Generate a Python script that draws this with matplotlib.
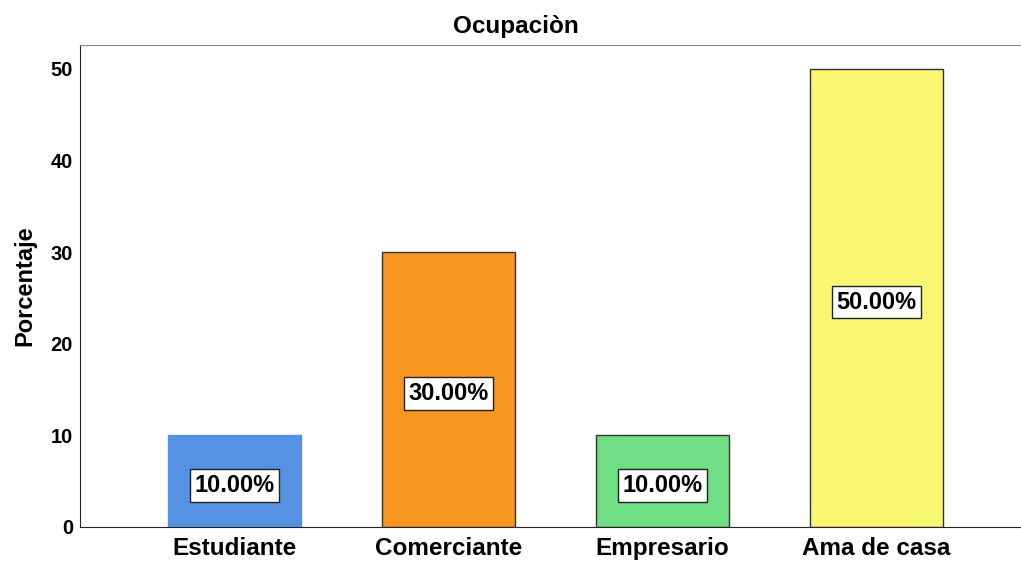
import numpy as np
import matplotlib.pyplot as plt

plt.rcParams['font.family'] = ['Liberation Sans', 'DejaVu Sans']
plt.rcParams['font.weight'] = 'bold'

categorias = ["Estudiante", "Comerciante", "Empresario", "Ama de casa"]
porcentajes = [10.0, 30.0, 10.0, 50.0]
colores = ["#5592E3", "#F7961F", "#70DE85", "#F9F772"]
bordes = ["#5592E3", "#333333", "#333333", "#333333"]

fig = plt.figure(figsize=(10.21, 5.61), dpi=100)
ax = fig.add_axes([80 / 1021, 1 - 527 / 561, 941 / 1021, 482 / 561])

x = np.arange(len(categorias))
ax.bar(x, porcentajes, width=0.62, color=colores, edgecolor=bordes, linewidth=1)

for xi, v in zip(x, porcentajes):
    ax.annotate(f"{v:.2f}%", (xi, v / 2), xytext=(0, -3), textcoords="offset points",
                ha="center", va="center", fontsize=17, fontweight="bold",
                bbox=dict(boxstyle="square,pad=0.2", facecolor="white",
                          edgecolor="#222222", linewidth=1))

ax.set_xlim(-0.722, 3.675)
ax.set_ylim(0, 52.6)
ax.set_yticks([0, 10, 20, 30, 40, 50])
ax.set_xticks(x)
ax.set_xticklabels(categorias, fontsize=17.5, fontweight="bold")
ax.tick_params(axis="y", labelsize=14.5, length=0, pad=5)
ax.tick_params(axis="x", length=0, pad=7)
for lbl in ax.get_yticklabels():
    lbl.set_fontweight("bold")

ax.spines["right"].set_visible(False)
ax.spines["top"].set_color("#888888")
ax.spines["left"].set_color("#222222")
ax.spines["bottom"].set_color("#222222")

ax.set_ylabel("Porcentaje", fontsize=17, fontweight="bold", labelpad=10)
ax.set_title("Ocupaciòn", fontsize=17.5, fontweight="bold", pad=9,
             x=(515.5 - 80) / 941)

fig.savefig("out.png", dpi=100)
